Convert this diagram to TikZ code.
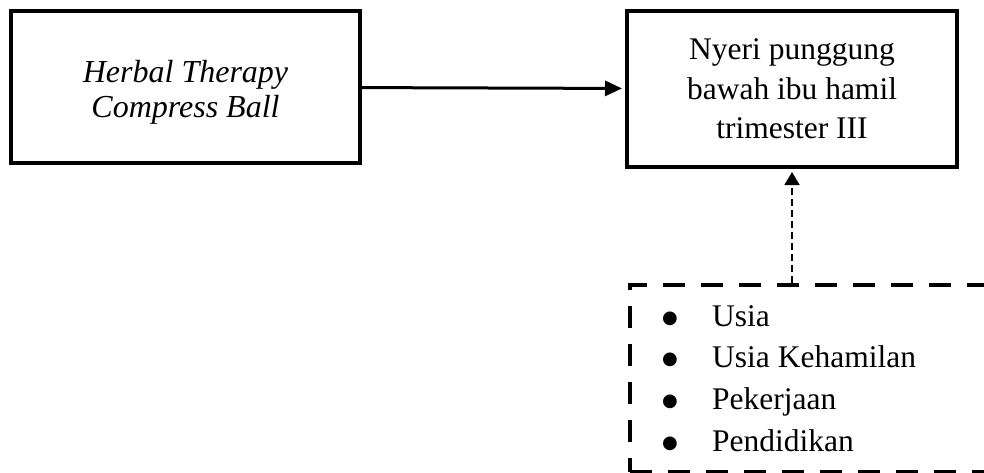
\documentclass[tikz,border=0pt]{standalone}
\usepackage{fontspec}
\setmainfont{Liberation Serif}
\newfontfamily\dotfont{DejaVu Sans}
\usetikzlibrary{positioning,arrows.meta}

\newcommand{\listdot}{\makebox[50pt][l]{\raisebox{3pt}{\dotfont\fontsize{18}{18}\selectfont ●}}}

\tikzset{
  mainbox/.style={draw, line width=4pt, align=center, inner sep=0pt,
    font=\fontsize{31.5}{39.5}\selectfont},
  factorbox/.style={draw, line width=4pt, dash pattern=on 22pt off 16pt,
    inner sep=0pt, anchor=north west},
}

\begin{document}
\begin{tikzpicture}[x=1pt, y=-1pt]
             \useasboundingbox (0,0) rectangle (984,472);

             \node[mainbox, minimum width=349pt, minimum height=152pt,
                   font=\fontsize{32}{35}\selectfont\itshape] (therapy) at (185.5, 87)
               {\rule{0pt}{32pt}Herbal Therapy\\ Compress Ball};
             \node[mainbox, minimum width=330pt, minimum height=156pt] (pain) at (792, 89)
               {Nyeri punggung\\ bawah ibu hamil\\ trimester III};

             \node[factorbox, minimum width=390pt, minimum height=187pt] (factors) at (628, 283) {};
             \node[anchor=north west, inner sep=0pt, align=left,
                   font=\fontsize{31.5}{41.7}\selectfont] (list) at (662, 305)
               {\listdot Usia\\
                \listdot Usia Kehamilan\\
                \listdot Pekerjaan\\
                \listdot Pendidikan};

             \draw[line width=3pt, -{Triangle[length=17pt, width=15pt]}, shorten >=3pt]
               (therapy) -- (pain);
             \draw[line width=1.5pt, dash pattern=on 7pt off 4pt,
                   -{Triangle[length=13pt, width=15pt]}, shorten >=3pt]
               (pain.south |- factors.north) -- (pain.south);
\end{tikzpicture}
\end{document}
